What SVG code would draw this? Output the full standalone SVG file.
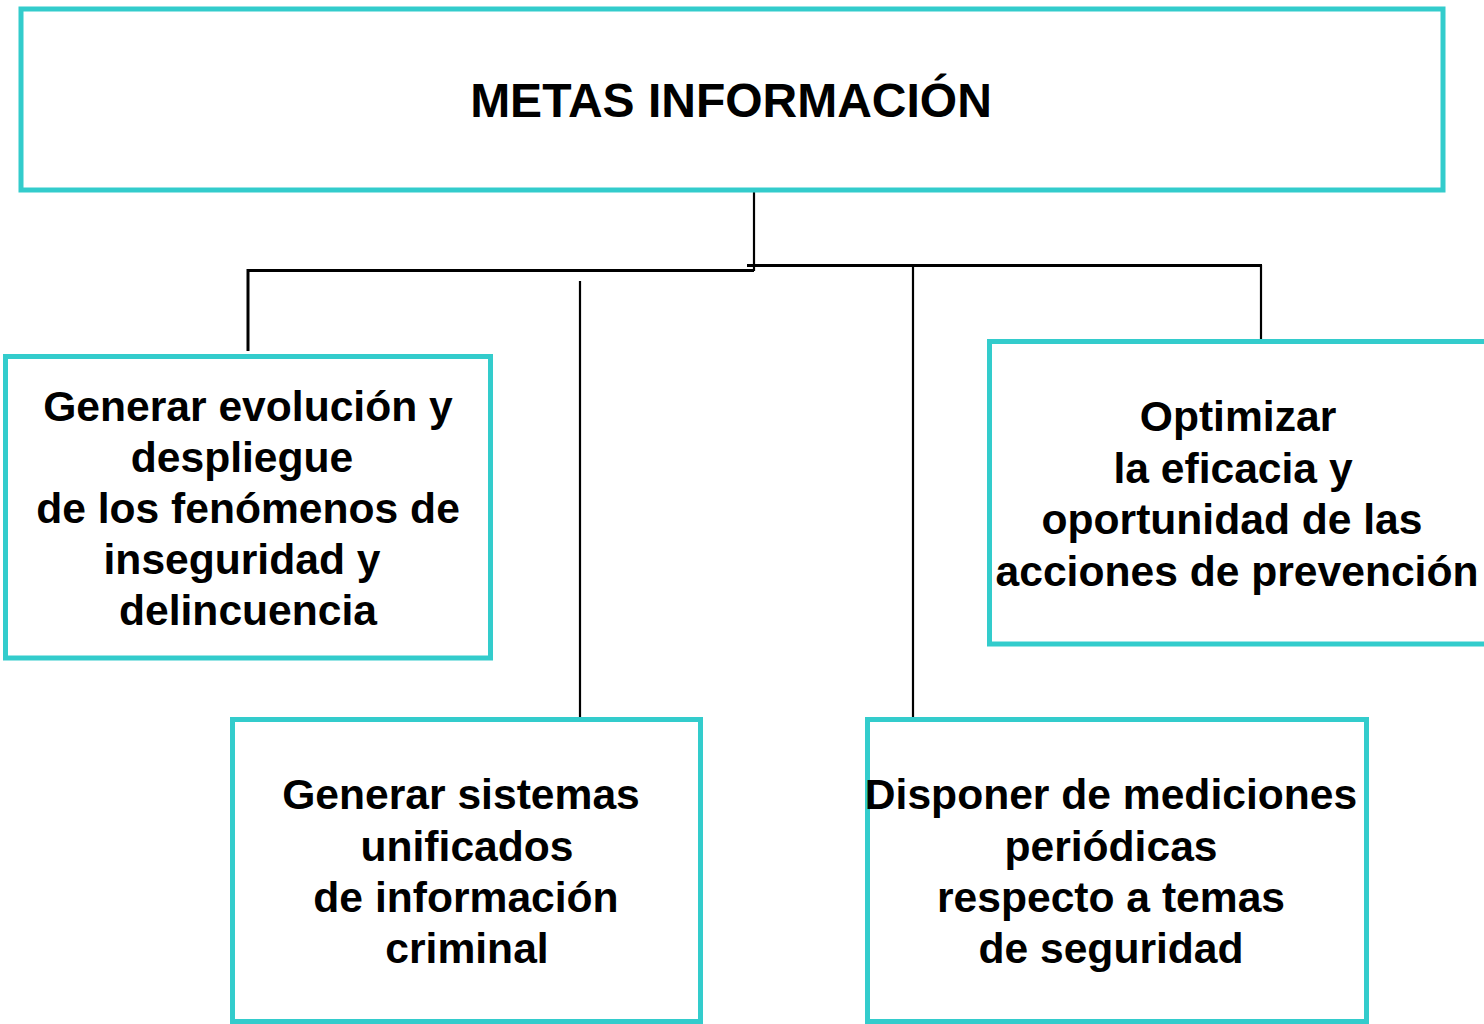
<svg xmlns="http://www.w3.org/2000/svg" width="1484" height="1024" viewBox="0 0 1484 1024">
<style>
.box{fill:#ffffff;stroke:#33CCCC;stroke-width:5}
.t{font-family:"Liberation Sans",Arial,sans-serif;font-weight:bold;font-size:42.6px;fill:#000000;text-anchor:middle}
.title{font-size:48px}
.c{stroke:#000000;stroke-width:2.2;fill:none}
.ch{stroke:#000000;stroke-width:3;fill:none}
</style>
<rect x="0" y="0" width="1484" height="1024" fill="#ffffff"/>
<g id="connectors">
<line class="c" x1="754" y1="190" x2="754" y2="271"/>
<polyline class="ch" points="248,351 248,270.5 754,270.5"/>
<line class="ch" x1="747" y1="265.5" x2="1262" y2="265.5"/>
<line class="c" x1="1261" y1="265" x2="1261" y2="341"/>
<line class="c" x1="913" y1="265" x2="913" y2="719"/>
<line class="c" x1="580" y1="281" x2="580" y2="719"/>
</g>
<g id="node-metas">
<rect class="box" x="21" y="9" width="1422" height="181"/>
<text class="t title" x="731" y="117">METAS INFORMACIÓN</text>
</g>
<g id="node-evolucion">
<rect class="box" x="5.5" y="356.5" width="485" height="301.5"/>
<text class="t" x="248" y="421">Generar evolución y</text>
<text class="t" x="242" y="472">despliegue</text>
<text class="t" x="248" y="523">de los fenómenos de</text>
<text class="t" x="242" y="574">inseguridad y</text>
<text class="t" x="248" y="625">delincuencia</text>
</g>
<g id="node-optimizar">
<rect class="box" x="989.5" y="341.5" width="497" height="302.5"/>
<text class="t" x="1238" y="431">Optimizar</text>
<text class="t" x="1233" y="483">la eficacia y</text>
<text class="t" x="1232" y="534">oportunidad de las</text>
<text class="t" x="1237" y="586">acciones de prevención</text>
</g>
<g id="node-sistemas">
<rect class="box" x="232.5" y="719.5" width="468" height="302"/>
<text class="t" x="461" y="809">Generar sistemas</text>
<text class="t" x="467" y="861">unificados</text>
<text class="t" x="466" y="912">de información</text>
<text class="t" x="467" y="963">criminal</text>
</g>
<g id="node-mediciones">
<rect class="box" x="867.5" y="719.5" width="499" height="302"/>
<text class="t" x="1111" y="809">Disponer de mediciones</text>
<text class="t" x="1111" y="861">periódicas</text>
<text class="t" x="1111" y="912">respecto a temas</text>
<text class="t" x="1111" y="963">de seguridad</text>
</g>
</svg>
